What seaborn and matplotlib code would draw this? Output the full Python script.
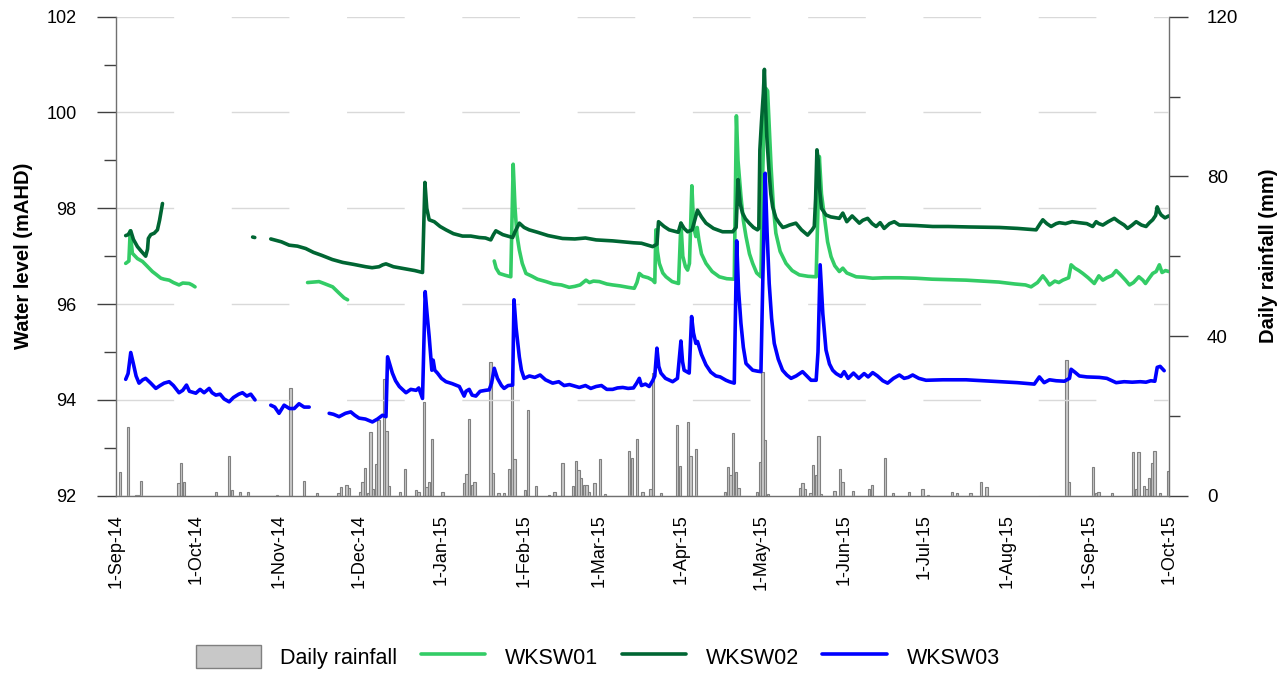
import numpy as np
import pandas as pd
import matplotlib
matplotlib.use("Agg")
import matplotlib.pyplot as plt
import matplotlib.dates as mdates
from matplotlib.patches import Patch
from matplotlib.lines import Line2D
import seaborn as sns

# Record start; day offsets below count from this date
START = pd.Timestamp("2014-09-01")
END = pd.Timestamp("2015-10-01")

# Daily rainfall (mm) on the given day offset
rain_day = [1, 4, 7, 8, 9, 23, 24, 25, 37, 42, 43, 46, 49, 60, 65, 70, 75, 83, 84, 86, 87,
            91, 92, 93, 94, 95, 96, 97, 98, 100, 101, 102, 106, 108, 112, 113, 115, 116, 117,
            118, 122, 130, 131, 132, 133, 134, 140, 141, 143, 145, 147, 148, 149, 153, 154,
            157, 162, 164, 167, 171, 172, 173, 174, 175, 176, 177, 179, 181, 183, 192, 193,
            195, 197, 200, 201, 204, 210, 211, 214, 215, 217, 228, 229, 230, 231, 232, 233,
            240, 241, 242, 243, 244, 256, 257, 258, 260, 261, 262, 263, 264, 269, 271, 272,
            276, 282, 283, 288, 291, 297, 302, 304, 313, 315, 320, 324, 326, 356, 357, 366,
            367, 368, 373, 381, 382, 383, 385, 386, 387, 388, 389, 391, 394]
rain_mm = [6.0, 17.3, 0.3, 0.3, 3.6, 3.3, 8.3, 3.4, 1.0, 9.9, 1.4, 1.0, 1.0, 0.3, 26.9, 3.8,
           0.6, 0.8, 2.1, 2.8, 1.9, 0.9, 3.4, 6.9, 0.8, 16.0, 1.8, 7.9, 19.0, 29.3, 16.3, 2.4,
           1.0, 6.8, 1.5, 1.0, 23.6, 2.3, 3.5, 14.1, 1.0, 3.2, 5.4, 19.3, 2.6, 3.4, 33.4, 5.8,
           0.8, 0.8, 6.8, 28.2, 9.1, 1.4, 21.5, 2.4, 0.3, 1.0, 8.3, 2.4, 8.7, 6.4, 4.4, 2.6,
           2.8, 1.0, 3.1, 9.3, 0.5, 11.1, 9.4, 14.3, 1.0, 1.8, 30.7, 0.8, 17.6, 7.5, 18.5, 9.9,
           11.8, 0.9, 7.1, 5.1, 15.6, 5.9, 2.0, 1.0, 8.4, 31.0, 14.0, 0.5, 1.9, 3.2, 1.6, 0.8,
           7.6, 5.1, 14.9, 0.4, 1.2, 6.8, 3.4, 1.2, 1.8, 2.7, 9.4, 0.8, 1.0, 1.8, 0.3, 1.0, 0.6,
           0.6, 3.4, 2.1, 34.0, 3.4, 7.1, 0.6, 1.0, 0.8, 11.0, 1.8, 11.0, 2.4, 1.8, 4.4, 8.1,
           11.2, 0.6, 6.2]

nan = np.nan

# WKSW01 water level (mAHD); nan marks a logger gap
wksw01_day = [3.6, 4.8, 5.3, 6.1, 8, 9.9, 11.5, 13.6, 15, 16.8, 18, 19.9, 21.5, 23.6, 25, 27.4,
              28.5, 29.6, nan,
              71.8, 74, 76.1, 78, 81.2, 83.6, 85.5, 86.8, nan,
              141.8, 142.5, 143.7, 146, 148.0, 148.9, 149.6, 150.3, 151.2, 152.3, 153.7, 156,
              158, 161.2, 164, 167, 169.9, 172, 174, 176.2, 177.5, 179, 181.2, 184, 186.2, 189,
              192, 194.3, 195.3, 196.2, 197.5, 199.5, 201.2, 202.0, 202.4, 203.0, 203.7, 205,
              206.2, 208.5, 210.9, 211.8, 212.5, 213.5, 214.3, 215.0, 215.9, 216.6, 217.4,
              217.9, 218.5, 219.5, 221.2, 223.5, 226.2, 229, 231.8, 232.6, 233.2, 234.3, 235.2,
              236.2, 237.5, 238.7, 240.2, 241.8, 242.5, 243.2, 243.7, 244.3, 245.0, 245.6,
              246.5, 247.4, 249, 251.2, 253.5, 256.2, 259.5, 262.5, 263.7, 264.5, 265.6, 266.8,
              268.1, 269.5, 271.2, 272.5, 274, 277.5, 280.5, 283.7, 288, 293.7, 300, 306, 312,
              318.7, 325, 331, 337, 341, 343.1, 345.5, 347.5, 348.8, 350, 352, 353.5, 355,
              357.2, 358.1, 359.5, 361, 362.5, 364.5, 366.8, 368.5, 370, 371.5, 373.5, 375,
              376.5, 378.5, 380, 381.5, 383.5, 385, 386, 387.5, 388.7, 390, 391.2, 392.2, 393.5,
              394.7]
wksw01_level = [96.85, 96.90, 97.53, 97.06, 96.95, 96.89, 96.80, 96.68, 96.62, 96.54, 96.52,
                96.50, 96.45, 96.40, 96.44, 96.43, 96.40, 96.36, nan,
                96.45, 96.46, 96.47, 96.43, 96.36, 96.23, 96.13, 96.09, nan,
                96.90, 96.75, 96.64, 96.60, 96.57, 98.92, 98.00, 97.45, 97.13, 96.85, 96.64,
                96.58, 96.52, 96.47, 96.42, 96.40, 96.35, 96.37, 96.40, 96.50, 96.45, 96.48,
                96.47, 96.42, 96.40, 96.38, 96.35, 96.33, 96.45, 96.64, 96.58, 96.55, 96.50,
                96.45, 97.55, 97.10, 96.85, 96.65, 96.57, 96.47, 96.43, 97.69, 97.00, 96.78,
                96.71, 96.85, 98.47, 97.60, 97.41, 97.60, 97.35, 97.05, 96.85, 96.68, 96.57,
                96.53, 96.52, 99.93, 99.00, 98.25, 97.75, 97.41, 97.05, 96.85, 96.65, 96.57,
                98.80, 100.30, 100.50, 100.45, 99.60, 98.87, 98.00, 97.48, 97.10, 96.85, 96.70,
                96.61, 96.58, 96.57, 99.08, 98.30, 97.83, 97.30, 96.99, 96.80, 96.68, 96.75,
                96.65, 96.57, 96.56, 96.54, 96.55, 96.55, 96.54, 96.52, 96.51, 96.50, 96.48,
                96.46, 96.42, 96.40, 96.36, 96.45, 96.59, 96.50, 96.40, 96.48, 96.45, 96.50,
                96.55, 96.82, 96.75, 96.70, 96.64, 96.55, 96.43, 96.59, 96.50, 96.55, 96.60,
                96.70, 96.62, 96.50, 96.40, 96.45, 96.57, 96.50, 96.43, 96.55, 96.64, 96.68,
                96.82, 96.66, 96.70, 96.68]

# WKSW02 water level (mAHD)
wksw02_day = [3.6, 4.5, 5.5, 6.5, 8, 9.5, 11.1, 11.8, 12.1, 13, 14.3, 15.5, 16.3, 17.4, nan,
              51.2, 52.0, nan,
              58, 60, 62, 64.9, 68, 71.1, 74, 77, 81.1, 85, 89, 93.6, 96, 98.6, 100, 101.2, 104,
              108, 112, 114.9, 115.8, 116.5, 117.4, 119.3, 121.5, 123.7, 126.5, 129.9, 133,
              136.2, 138.5, 140.5, 141.5, 142.4, 145, 148.7, 149.5, 151.2, 153, 154.9, 158, 162,
              167.4, 172, 176, 180, 186.2, 190, 194, 197, 201.2, 202.8, 203.4, 205.5, 207.4,
              209.5, 210.8, 211.8, 213, 214.3, 216, 218, 219.5, 221.2, 224, 227.4, 231.2, 232.5,
              233.2, 234.0, 234.9, 236, 237.4, 239, 240.5, 241.0, 241.4, 242.0, 242.7, 243.1,
              243.5, 244, 244.8, 245.5, 246.2, 247.4, 248.7, 250, 251.2, 252.5, 254.9, 257,
              259.3, 261, 261.8, 262.3, 262.8, 263.3, 263.8, 264.5, 266.2, 268, 271.2, 272.5,
              274, 276, 278.7, 280, 281.8, 283.5, 285, 286.5, 288, 290, 291.8, 293.7, 295, 300,
              306.2, 312, 320, 331.2, 338, 345, 346.5, 347.5, 349, 350.6, 352.5, 353.7, 356,
              358.5, 361, 364, 366.2, 367.5, 368.5, 370, 372, 374.3, 376, 378, 379.3, 381, 382.5,
              384.5, 386.2, 387.5, 388.7, 389.8, 390.4, 391.2, 391.9, 393.3, 394.7]
wksw02_level = [97.43, 97.45, 97.53, 97.35, 97.20, 97.10, 97.00, 97.15, 97.37, 97.45, 97.48,
                97.55, 97.75, 98.10, nan,
                97.40, 97.39, nan,
                97.36, 97.33, 97.30, 97.23, 97.21, 97.16, 97.08, 97.02, 96.93, 96.87, 96.83,
                96.78, 96.76, 96.78, 96.82, 96.84, 96.78, 96.74, 96.70, 96.66, 98.54, 98.00,
                97.76, 97.72, 97.62, 97.55, 97.47, 97.42, 97.42, 97.39, 97.38, 97.34, 97.45,
                97.53, 97.45, 97.39, 97.50, 97.69, 97.60, 97.55, 97.50, 97.43, 97.37, 97.36,
                97.38, 97.34, 97.32, 97.30, 97.28, 97.27, 97.20, 97.25, 97.72, 97.62, 97.55,
                97.52, 97.50, 97.69, 97.58, 97.51, 97.55, 97.96, 97.82, 97.69, 97.58, 97.51,
                97.51, 97.60, 98.60, 98.10, 97.90, 97.78, 97.69, 97.60, 97.55, 97.58, 99.22,
                99.80, 100.40, 100.90, 100.20, 99.50, 98.80, 98.30, 98.03, 97.80, 97.69, 97.60,
                97.62, 97.65, 97.69, 97.55, 97.44, 97.55, 97.62, 98.20, 99.22, 99.00, 98.40,
                98.00, 97.86, 97.82, 97.79, 97.90, 97.72, 97.84, 97.69, 97.75, 97.79, 97.68,
                97.62, 97.70, 97.58, 97.68, 97.72, 97.65, 97.65, 97.64, 97.62, 97.62, 97.61,
                97.60, 97.58, 97.55, 97.68, 97.76, 97.68, 97.62, 97.68, 97.70, 97.68, 97.72,
                97.70, 97.68, 97.62, 97.72, 97.68, 97.65, 97.72, 97.79, 97.72, 97.65, 97.58,
                97.65, 97.72, 97.65, 97.62, 97.70, 97.76, 97.85, 98.03, 97.92, 97.86, 97.80,
                97.84]

# WKSW03 water level (mAHD)
wksw03_day = [3.6, 4.5, 5.5, 6.5, 7.5, 8.6, 10, 11.1, 13, 14.9, 16.5, 18, 19.9, 21.5, 23.6, 25,
              26.4, 27.5, 29.9, 31.5, 33, 34.9, 36, 37.4, 39, 40.5, 42.4, 44, 46, 47.4, 49,
              50.5, 52.1, nan,
              58, 59.5, 61.1, 63, 65, 66.8, 68.6, 70.5, 72.4, nan,
              79.9, 81.5, 83.6, 86, 88, 89.5, 91.1, 93.5, 96.1, 98, 99.9, 101.2, 101.8, 102.6,
              103.6, 104.8, 106.2, 108.7, 110.5, 112.5, 113.5, 114.9, 115.9, 116.6, 117.4,
              118.4, 118.9, 119.5, 120.5, 122, 123.7, 126, 128.7, 130.5, 131.2, 132.4, 133.5,
              134.9, 136.5, 138.5, 139.9, 140.8, 141.8, 143, 144.5, 145.5, 147, 148.7, 149.2,
              150, 151.2, 152, 153, 155, 157, 159, 161, 163.7, 166, 168, 170, 173.7, 176, 178,
              180, 182, 184, 186.2, 188, 190, 192, 194, 195.2, 196.2, 197, 198.5, 199.9, 201.2,
              202.0, 202.8, 203.5, 204.3, 206, 208.7, 210.5, 211.8, 212.4, 213, 214.9, 215.8,
              216.5, 217.4, 218, 219.5, 221.2, 223, 224.9, 226.5, 228.7, 230, 231.8, 232.7,
              233.4, 234.3, 235.2, 236.2, 238.7, 240.5, 241.8, 242.5, 243.4, 244.1, 244.9,
              245.8, 246.8, 248.3, 249.9, 251.5, 253.1, 255, 257.4, 259, 260.6, 262.5, 263.2,
              264.0, 265, 266.2, 267.5, 268.7, 270, 271.8, 273, 274.5, 276.5, 278.5, 280.5, 282,
              283.7, 285.5, 287.5, 289.3, 291.5, 293.7, 295.5, 297, 298.7, 301, 303.7, 310,
              318.7, 325, 331.2, 338, 344.3, 346.2, 348, 350, 352.5, 355.6, 357.5, 358.1, 359.5,
              361.2, 364, 368.7, 371.5, 373.5, 375, 378, 381, 384, 386.2, 388, 389.5, 390.4,
              391.5, 393]
wksw03_level = [94.43, 94.55, 94.99, 94.75, 94.50, 94.35, 94.42, 94.45, 94.35, 94.24, 94.30,
                94.35, 94.38, 94.30, 94.15, 94.20, 94.31, 94.18, 94.14, 94.22, 94.15, 94.24,
                94.15, 94.10, 94.12, 94.02, 93.96, 94.05, 94.12, 94.15, 94.08, 94.12, 94.00, nan,
                93.89, 93.85, 93.72, 93.89, 93.82, 93.82, 93.92, 93.85, 93.85, nan,
                93.72, 93.70, 93.65, 93.72, 93.75, 93.68, 93.62, 93.60, 93.54, 93.60, 93.68,
                93.65, 94.90, 94.75, 94.56, 94.40, 94.28, 94.15, 94.22, 94.20, 94.25, 94.03,
                96.26, 95.80, 95.32, 94.62, 94.83, 94.62, 94.56, 94.45, 94.38, 94.34, 94.28,
                94.08, 94.18, 94.22, 94.10, 94.08, 94.18, 94.20, 94.21, 94.35, 94.66, 94.45,
                94.30, 94.24, 94.30, 94.31, 96.09, 95.50, 94.90, 94.62, 94.45, 94.50, 94.47,
                94.52, 94.42, 94.35, 94.38, 94.30, 94.32, 94.26, 94.30, 94.24, 94.28, 94.30,
                94.22, 94.22, 94.25, 94.26, 94.24, 94.25, 94.35, 94.45, 94.30, 94.33, 94.28,
                94.40, 94.50, 95.08, 94.70, 94.56, 94.45, 94.38, 94.45, 95.23, 94.80, 94.62,
                94.56, 95.74, 95.40, 95.18, 95.22, 94.95, 94.73, 94.58, 94.50, 94.48, 94.41,
                94.38, 94.35, 97.32, 96.30, 95.60, 95.10, 94.76, 94.62, 94.60, 94.59, 96.50,
                98.73, 97.50, 96.43, 95.70, 95.18, 94.85, 94.62, 94.52, 94.45, 94.50, 94.59,
                94.50, 94.41, 94.41, 95.00, 96.82, 95.80, 95.04, 94.75, 94.62, 94.55, 94.49,
                94.59, 94.45, 94.56, 94.45, 94.55, 94.48, 94.57, 94.50, 94.40, 94.35, 94.45,
                94.52, 94.45, 94.47, 94.52, 94.45, 94.41, 94.42, 94.42, 94.40, 94.38, 94.36,
                94.33, 94.48, 94.36, 94.42, 94.40, 94.39, 94.45, 94.64, 94.58, 94.50, 94.48,
                94.47, 94.45, 94.40, 94.36, 94.38, 94.37, 94.38, 94.37, 94.40, 94.39, 94.68,
                94.70, 94.61]

site_names = ["WKSW01", "WKSW02", "WKSW03"]
site_colors = ["#33CC66", "#006633", "#0000FF"]
RAIN_FILL = "#C8C8C8"
RAIN_EDGE = "#808080"


def level_frame(days, levels, site):
    df = pd.DataFrame({"day": days, "level": levels})
    df["segment"] = df["level"].isna().cumsum()
    df = df.dropna().copy()
    df["date"] = START + pd.to_timedelta(df["day"], unit="D")
    df["site"] = site
    return df


levels = pd.concat([
    level_frame(wksw01_day, wksw01_level, "WKSW01"),
    level_frame(wksw02_day, wksw02_level, "WKSW02"),
    level_frame(wksw03_day, wksw03_level, "WKSW03"),
], ignore_index=True)
levels["unit"] = levels["site"] + "_" + levels["segment"].astype(str)

rain = pd.DataFrame({"date": START + pd.to_timedelta(rain_day, unit="D"), "mm": rain_mm})

sns.set_theme(style="white")
plt.rcParams["font.family"] = ["Liberation Sans", "DejaVu Sans"]
plt.rcParams["text.color"] = "black"
plt.rcParams["axes.labelcolor"] = "black"
plt.rcParams["xtick.color"] = "black"
plt.rcParams["ytick.color"] = "black"

fig = plt.figure(figsize=(12.87, 6.75), dpi=100)
ax = fig.add_axes([0.0902, 0.2656, 0.8185, 0.7097])
ax2 = ax.twinx()
# rainfall bars sit underneath the water level lines
ax.set_zorder(ax2.get_zorder() + 1)
ax.patch.set_visible(False)

ax2.bar(rain["date"], rain["mm"], width=0.85, align="edge",
        color=RAIN_FILL, edgecolor=RAIN_EDGE, linewidth=0.8)

sns.lineplot(data=levels, x="date", y="level", hue="site", units="unit",
             estimator=None, palette=dict(zip(site_names, site_colors)),
             hue_order=site_names, linewidth=2.6, legend=False, ax=ax)

# axes ranges and ticks
ax.set_xlim(START, END)
ax.set_ylim(92, 102)
ax2.set_ylim(0, 120)
ax.set_yticks(np.arange(92, 103, 2))
ax.set_yticks(np.arange(93, 102, 2), minor=True)
ax2.set_yticks([0, 40, 80, 120])
ax2.set_yticks([20, 60, 100], minor=True)

ax.xaxis.set_major_locator(mdates.MonthLocator(bymonthday=1))
ax.xaxis.set_major_formatter(mdates.DateFormatter("%-d-%b-%y"))

ax.yaxis.grid(True, which="major", color="#D9D9D9", linewidth=1.0,
              linestyle=(0, (41.5, 41.5)))
ax.xaxis.grid(False)

ax.tick_params(axis="x", which="major", direction="out", length=7, width=1,
               color="#404040", labelcolor="black", pad=6, labelsize=13, labelrotation=90)
ax.tick_params(axis="y", which="major", direction="out", length=13.5, width=1,
               color="#404040", labelcolor="black", pad=15, labelsize=13)
ax.tick_params(axis="y", which="minor", direction="out", length=8.5, width=1,
               color="#404040", left=True)
ax2.tick_params(axis="y", which="major", direction="out", length=13.5, width=1,
                color="#404040", labelcolor="black", pad=13.5, labelsize=13.5)
ax2.tick_params(axis="y", which="minor", direction="out", length=8, width=1,
                color="#404040", right=True)
for lab in ax.get_xticklabels():
    lab.set_horizontalalignment("center")

for sp in ["top", "right"]:
    ax.spines[sp].set_visible(False)
for sp in ["top", "left", "bottom"]:
    ax2.spines[sp].set_visible(False)
for sp in [ax.spines["left"], ax.spines["bottom"], ax2.spines["right"]]:
    sp.set_color("#707070")
    sp.set_linewidth(1.0)

ax.set_xlabel("")
ax.set_ylabel("Water level (mAHD)", fontsize=14.5, fontweight="bold", color="black")
ax.yaxis.set_label_coords(-0.079, 0.5)
ax2.set_ylabel("Daily rainfall (mm)", fontsize=14.5, fontweight="bold", rotation=90,
               color="black")
ax2.yaxis.set_label_coords(1.085, 0.5)

handles = [Patch(facecolor=RAIN_FILL, edgecolor=RAIN_EDGE, label="Daily rainfall")]
handles += [Line2D([], [], color=c, linewidth=2.6, label=n)
            for n, c in zip(site_names, site_colors)]
fig.legend(handles=handles, loc="center", bbox_to_anchor=(0.4645, 0.027), ncol=4,
           frameon=False, fontsize=15.5, handlelength=3.0, handleheight=1.3,
           handletextpad=0.9, columnspacing=1.1, labelcolor="black")

fig.savefig("out.png", dpi=100)
